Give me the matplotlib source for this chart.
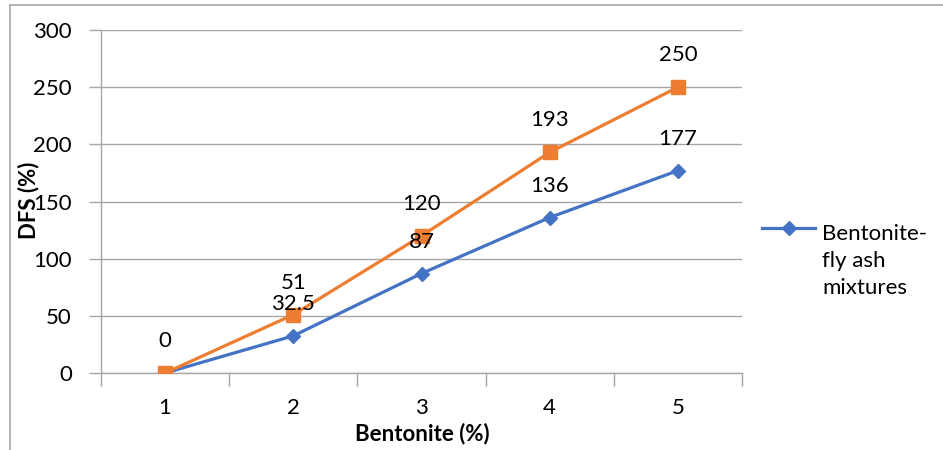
import matplotlib
matplotlib.use("Agg")
import matplotlib.pyplot as plt
from matplotlib.lines import Line2D

categories = ["1", "2", "3", "4", "5"]
mixture_values = [0, 32.5, 87, 136, 177]
orange_values = [0, 51, 120, 193, 250]
mixture_labels = ["", "32.5", "87", "136", "177"]
orange_labels = ["0", "51", "120", "193", "250"]
series_name = "Bentonite-\nfly ash\nmixtures"
y_ticks = [0, 50, 100, 150, 200, 250, 300]

plt.rcParams['font.family'] = ['Lato', 'DejaVu Sans']
BLUE = "#4472C4"
ORANGE = "#ED7D31"
GRID = "#A6A6A6"
FS = 16

fig = plt.figure(figsize=(9.43, 4.5), dpi=100)
ax = fig.add_axes([101/943, 1-373/450, (742-101)/943, (373-30)/450])

x = list(range(1, len(categories)+1))
ax.plot(x, mixture_values, color=BLUE, lw=2.3, marker="D", ms=7, zorder=3)
ax.plot(x, orange_values, color=ORANGE, lw=2.3, marker="s", ms=9.5, zorder=4)

for xi, v, lab in zip(x, mixture_values, mixture_labels):
    if lab:
        ax.annotate(lab, (xi, v), xytext=(0, 23), textcoords="offset points",
                    ha="center", va="center", fontsize=FS, color="black", zorder=5)
for xi, v, lab in zip(x, orange_values, orange_labels):
    ax.annotate(lab, (xi, v), xytext=(0, 23), textcoords="offset points",
                ha="center", va="center", fontsize=FS, color="black", zorder=5)

ax.set_xlim(0.5, len(categories)+0.5)
ax.set_ylim(0, 300)
ax.set_yticks(y_ticks)
ax.set_yticklabels([str(t) for t in y_ticks], fontsize=FS)
ax.set_xticks(x)
ax.set_xticklabels(categories, fontsize=FS)
ax.set_xticks([i+0.5 for i in range(0, len(categories)+1)], minor=True)
ax.tick_params(axis="x", which="major", length=0, pad=18)
ax.tick_params(axis="x", which="minor", length=9, color=GRID, width=1)
ax.tick_params(axis="y", which="major", length=9, color=GRID, width=1, pad=12)
ax.yaxis.grid(True, color=GRID, lw=1)
ax.set_axisbelow(True)
for s in ["top", "right"]:
    ax.spines[s].set_visible(False)
for s in ["left", "bottom"]:
    ax.spines[s].set_color(GRID)
    ax.spines[s].set_linewidth(1)

fig.text(422/943, 1-434/450, "Bentonite (%)", ha="center", va="center",
         fontsize=FS, fontweight="bold")
fig.text(29/943, 1-200/450, "DFS (%)", ha="center", va="center",
         rotation=90, fontsize=FS, fontweight="bold")

handle = Line2D([], [], color=BLUE, lw=2.3, marker="D", ms=7)
leg = fig.legend([handle], [series_name], loc="center left",
                 bbox_to_anchor=(742/943, 1-228/450), frameon=False,
                 fontsize=FS, handlelength=2.4, handletextpad=0.3)
for t in leg.get_texts():
    t.set_va("center")
    t.set_linespacing(1.45)

# outer chart border (partially visible)
fig.add_artist(Line2D([10/943, 10/943], [0, 1-5/450], color=GRID, lw=1.2,
                      transform=fig.transFigure))
fig.add_artist(Line2D([10/943, 1], [1-5/450, 1-5/450], color=GRID, lw=1.2,
                      transform=fig.transFigure))

fig.savefig("out.png", dpi=100)
